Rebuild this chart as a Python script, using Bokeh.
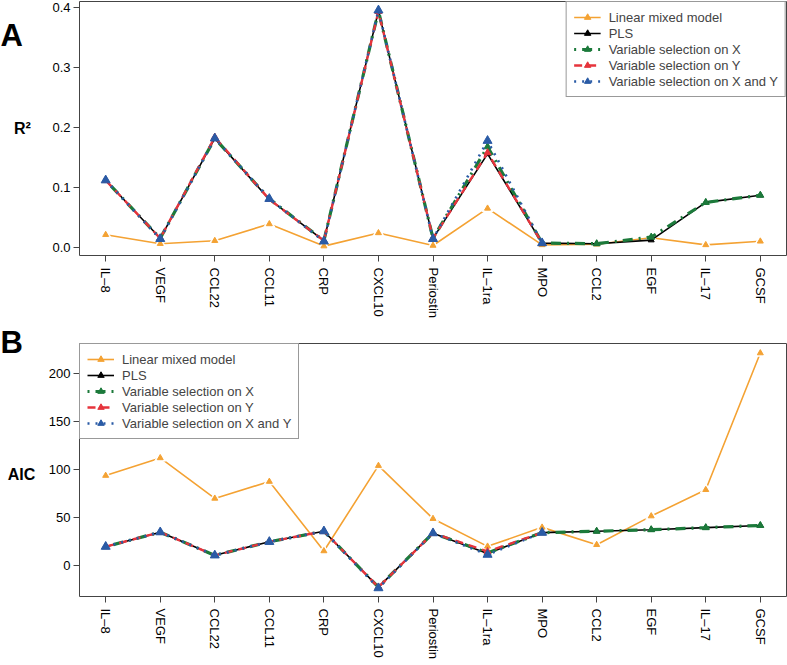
import numpy as np
from bokeh.plotting import figure
from bokeh.models import Range1d, FixedTicker, Legend, LegendItem, PrintfTickFormatter
from bokeh.core.properties import value
from bokeh.layouts import column, row
from bokeh.embed import file_html
from bokeh.resources import INLINE

nan = float("nan")

# ---- data ----
cytokines = ["IL\u20138", "VEGF", "CCL22", "CCL11", "CRP", "CXCL10", "Periostin",
             "IL\u20131ra", "MPO", "CCL2", "EGF", "IL\u201317", "GCSF"]

lmm_r2   = [0.021, 0.006, 0.011, 0.039, 0.002, 0.024, 0.003, 0.065, 0.004, 0.005, 0.016, 0.004, 0.010]
pls_r2   = [0.112, 0.015, 0.182, 0.080, 0.011, 0.395, 0.015, 0.156, 0.007, 0.006, 0.012, 0.075, 0.087]
selx_r2  = [0.112, 0.015, 0.182, 0.081, 0.011, 0.395, 0.015, 0.168, 0.007, 0.006, 0.017, 0.075, 0.087]
sely_r2  = [0.112, 0.015, 0.184, 0.080, 0.011, 0.394, 0.015, 0.158, 0.007, nan, nan, nan, nan]
selxy_r2 = [0.112, 0.014, 0.182, 0.081, 0.010, 0.396, 0.014, 0.178, 0.007, nan, nan, nan, nan]

lmm_aic   = [93.7, 112.0, 70.0, 87.5, 15.5, 104.0, 49.0, 20.3, 40.0, 22.0, 51.7, 79.0, 220.8]
pls_aic   = [20.0, 35.0, 11.0, 25.0, 36.0, -22.0, 34.0, 13.0, 34.5, 36.0, 37.6, 39.7, 42.0]
selx_aic  = [20.0, 35.0, 11.0, 25.0, 36.0, -22.0, 34.0, 13.5, 34.5, 36.0, 37.6, 39.7, 42.0]
sely_aic  = [20.0, 35.0, 11.0, 25.0, 36.0, -22.0, 34.0, 15.0, 34.5, nan, nan, nan, nan]
selxy_aic = [20.0, 35.0, 11.0, 25.0, 36.0, -23.0, 34.0, 11.7, 34.5, nan, nan, nan, nan]

r2_ticks = [0.0, 0.1, 0.2, 0.3, 0.4]
aic_ticks = [0, 50, 100, 150, 200]

series_names = ["Linear mixed model", "PLS", "Variable selection on X",
                "Variable selection on Y", "Variable selection on X and Y"]

# ---- styling ----
FONT = "Liberation Sans"
ORANGE = "#F4A233"
GREEN = "#1C7A3B"
RED = "#E6343C"
BLUE = "#2A5BA6"
styles = [
    dict(color=ORANGE, dash="solid", lw=1.6, size=6, halo=True),
    dict(color="black", dash="solid", lw=1.6, size=6, halo=False),
    dict(color=GREEN, dash="2 6 10 6", lw=3.2, size=7, halo=False),
    dict(color=RED, dash="8 6", lw=2.4, size=7, halo=False),
    dict(color=BLUE, dash="2 6", lw=2.6, size=9, halo=False),
]

xs = list(range(1, len(cytokines) + 1))
XR = (0.52, 13.48)
TOTAL_W, TOTAL_H = 787, 665
LEFT_W = 40
MAIN_W = TOTAL_W - LEFT_W
BL, BR = 39, 1


def make_fig(height, bt, bb, yr, yticks, fmt, data, legend_loc):
    p = figure(width=MAIN_W, height=height, output_backend="svg", toolbar_location=None,
               x_range=Range1d(*XR), y_range=Range1d(*yr),
               min_border_left=BL, min_border_right=BR,
               min_border_top=bt, min_border_bottom=bb)
    p.grid.visible = False
    p.outline_line_color = "#444444"
    p.outline_line_width = 1
    for ax in (p.xaxis, p.yaxis):
        ax.axis_line_color = None
        ax.major_tick_line_color = "#444444"
        ax.major_tick_out = 6
        ax.major_tick_in = 0
        ax.minor_tick_line_color = None
        ax.major_label_text_font = FONT
        ax.major_label_text_font_size = "13px"
        ax.major_label_text_color = "black"
    p.xaxis.ticker = FixedTicker(ticks=xs)
    p.xaxis.major_label_overrides = {i: c for i, c in zip(xs, cytokines)}
    p.xaxis.major_label_orientation = "vertical"
    p.xaxis.major_label_standoff = 6
    p.yaxis.ticker = FixedTicker(ticks=yticks)
    p.yaxis.formatter = PrintfTickFormatter(format=fmt)
    p.yaxis.major_label_standoff = 3

    items = []
    for name, ys, st in zip(series_names, data, styles):
        y = np.array(ys, dtype=float)
        l = p.line(xs, y, line_color=st["color"], line_width=st["lw"], line_dash=st["dash"])
        if st["halo"]:
            p.scatter(xs, y, marker="triangle", size=st["size"] + 5,
                      fill_color="white", line_color="white")
        s = p.scatter(xs, y, marker="triangle", size=st["size"], fill_color=st["color"],
                      line_color=st["color"])
        items.append(LegendItem(label=name, renderers=[l, s]))
    leg = Legend(items=items, location=legend_loc, label_text_font=FONT,
                 label_text_font_size="13px", label_height=16, glyph_height=16,
                 glyph_width=27, spacing=0, padding=7, margin=0, label_standoff=8,
                 border_line_color="#333333", border_line_width=1,
                 background_fill_color="white", background_fill_alpha=1.0)
    p.add_layout(leg)
    return p


# top panel: frame y 1..255
TOP_H = 325
YR1 = (-0.0137, 0.4107)
p1 = make_fig(TOP_H, 1, TOP_H - 255, YR1, r2_ticks, "%.1f",
              [lmm_r2, pls_r2, selx_r2, sely_r2, selxy_r2], "top_right")

# bottom panel: frame y 343..596
BOT_H = TOTAL_H - TOP_H
YR2 = (-31.7, 230.7)
p2 = make_fig(BOT_H, 343 - TOP_H, TOTAL_H - 596, YR2, aic_ticks, "%d",
              [lmm_aic, pls_aic, selx_aic, sely_aic, selxy_aic], "top_left")

# left strip with panel letters and axis titles (pixel coordinates)
lab = figure(width=LEFT_W, height=TOTAL_H, output_backend="svg", toolbar_location=None,
             x_range=Range1d(0, LEFT_W), y_range=Range1d(TOTAL_H, 0),
             min_border_left=0, min_border_right=0, min_border_top=0, min_border_bottom=0)
lab.axis.visible = False
lab.grid.visible = False
lab.outline_line_color = None
lab.text(x=[0, 0], y=[35, 342], text=["A", "B"], text_font=value(FONT),
         text_font_size="31px", text_font_style="bold", text_align="left",
         text_baseline="alphabetic", text_color="black")
lab.text(x=[22, 21], y=[128, 474], text=["R\u00b2", "AIC"], text_font=value(FONT),
         text_font_size="16px", text_font_style="bold", text_align="center",
         text_baseline="alphabetic", text_color="black")

layout = row(lab, column(p1, p2, spacing=0), spacing=0)
open("out.html", "w").write(file_html(layout, INLINE))
